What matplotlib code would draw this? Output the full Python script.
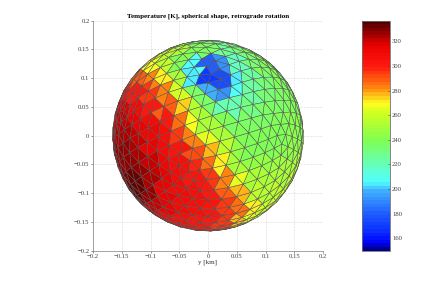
import numpy as np
import matplotlib
matplotlib.use('Agg')
import matplotlib.pyplot as plt
from matplotlib.collections import PolyCollection
from matplotlib.colors import LinearSegmentedColormap, Normalize
from matplotlib.cm import ScalarMappable

plt.rcParams['font.family'] = ['Liberation Serif', 'DejaVu Serif']

# temperatures [K], on a grid of (y, z) positions on the disc
grid_y = [-0.15, -0.125, -0.1, -0.075, -0.05, -0.025, 0, 0.025, 0.05, 0.075, 0.1, 0.125, 0.15]
grid_z = [0.15, 0.125, 0.1, 0.075, 0.05, 0.025, 0, -0.025, -0.05, -0.075, -0.1, -0.125, -0.15]
temps = [
    [262, 262, 262, 258, 250, 240, 235, 228, 232, 238, 242, 245, 245],
    [280, 275, 268, 258, 240, 208, 182, 192, 218, 232, 240, 245, 245],
    [292, 288, 282, 272, 250, 205, 170, 175, 205, 225, 232, 238, 242],
    [305, 300, 295, 283, 262, 235, 197, 193, 208, 225, 232, 235, 240],
    [318, 310, 300, 290, 275, 255, 235, 222, 222, 230, 235, 235, 240],
    [322, 315, 308, 300, 287, 268, 250, 240, 235, 235, 235, 238, 242],
    [325, 320, 312, 305, 295, 282, 265, 250, 240, 238, 238, 240, 242],
    [326, 324, 316, 308, 303, 292, 277, 258, 245, 240, 240, 242, 246],
    [328, 328, 320, 311, 306, 298, 287, 270, 252, 245, 245, 248, 252],
    [330, 332, 324, 315, 308, 303, 295, 282, 264, 250, 250, 252, 256],
    [330, 332, 326, 316, 309, 305, 300, 288, 278, 258, 255, 258, 260],
    [328, 328, 322, 314, 309, 305, 302, 295, 285, 270, 260, 262, 265],
    [325, 325, 318, 310, 305, 303, 300, 295, 278, 265, 262, 265, 265],
]

# colour bar anchors
cb_values = [150, 155, 165, 180, 198, 205, 215, 240, 262, 270, 282, 300, 318, 337]
cb_colors = ['#00008f', '#0000ff', '#0a30ff', '#2060ff', '#40b0ff', '#50ffff', '#60ffd0',
             '#80ff50', '#d0ff20', '#ffff20', '#ff8c10', '#ff1a10', '#e80000', '#500000']

radius = 0.166
pole = (0.005, 0.107)
spin = 0.45
freq = 8


def icosphere(n):
    t = (1 + 5 ** 0.5) / 2
    v = np.array([[-1, t, 0], [1, t, 0], [-1, -t, 0], [1, -t, 0], [0, -1, t], [0, 1, t],
                  [0, -1, -t], [0, 1, -t], [t, 0, -1], [t, 0, 1], [-t, 0, -1], [-t, 0, 1]], float)
    f = [(0, 11, 5), (0, 5, 1), (0, 1, 7), (0, 7, 10), (0, 10, 11), (1, 5, 9), (5, 11, 4), (11, 10, 2),
         (10, 7, 6), (7, 1, 8), (3, 9, 4), (3, 4, 2), (3, 2, 6), (3, 6, 8), (3, 8, 9), (4, 9, 5),
         (2, 4, 11), (6, 2, 10), (8, 6, 7), (9, 8, 1)]
    tris = []
    for a, b, c in f:
        a, b, c = v[a], v[b], v[c]
        p = lambda i, j: (a * (n - i - j) + b * i + c * j) / n
        for i in range(n):
            for j in range(n - i):
                tris.append([p(i, j), p(i + 1, j), p(i, j + 1)])
                if i + j < n - 1:
                    tris.append([p(i + 1, j), p(i + 1, j + 1), p(i, j + 1)])
    tris = np.array(tris)
    return tris / np.linalg.norm(tris, axis=2, keepdims=True), v[0] / np.linalg.norm(v[0])


def rotation_to(a, b):
    # rotation taking unit vector a onto unit vector b
    c = np.cross(a, b)
    k = np.array([[0, -c[2], c[1]], [c[2], 0, -c[0]], [-c[1], c[0], 0]])
    return np.eye(3) + k + k @ k / (1 + a @ b)


tris, top = icosphere(freq)
sy, sz = pole[0] / radius, pole[1] / radius
target = np.array([sy, sz, (1 - sy ** 2 - sz ** 2) ** 0.5])
k = np.array([[0, -top[2], top[1]], [top[2], 0, -top[0]], [-top[1], top[0], 0]])
spin_rot = np.eye(3) + np.sin(spin) * k + (1 - np.cos(spin)) * k @ k
tris = tris @ (rotation_to(top, target) @ spin_rot).T

centres = tris.mean(axis=1)
front = centres[:, 2] > -0.02
tris = tris[front]
centres = centres[front]
order = np.argsort(centres[:, 2])
tris = tris[order]
centres = centres[order]
polys = tris[:, :, :2] * radius

iy = np.abs(np.subtract.outer(centres[:, 0] * radius, grid_y)).argmin(axis=1)
iz = np.abs(np.subtract.outer(centres[:, 1] * radius, grid_z)).argmin(axis=1)
face_t = np.array(temps)[iz, iy]

cmap = LinearSegmentedColormap.from_list(
    'bar', [((v - cb_values[0]) / (cb_values[-1] - cb_values[0]), c) for v, c in zip(cb_values, cb_colors)], N=64)
norm = Normalize(cb_values[0], cb_values[-1])

fig = plt.figure(figsize=(4.36, 2.82), dpi=100)
ax = fig.add_axes([93 / 436, 1 - 250.7 / 282, 230 / 436, 230 / 282])
ax.set_xlim(-0.2, 0.2)
ax.set_ylim(-0.2, 0.2)
ticks = [-0.2, -0.15, -0.1, -0.05, 0, 0.05, 0.1, 0.15, 0.2]
labels = ['\u22120.2', '\u22120.15', '\u22120.1', '\u22120.05', '0', '0.05', '0.1', '0.15', '0.2']
ax.set_xticks(ticks, labels)
ax.set_yticks(ticks, labels)
ax.grid(True, linestyle=':', linewidth=0.4, color='#b8b8b8')
ax.set_axisbelow(True)
ax.tick_params(labelsize=4.8, length=1.5, width=0.4, pad=1, colors='#404040')
for s in ['top', 'right']:
    ax.spines[s].set_visible(False)
for s in ['left', 'bottom']:
    ax.spines[s].set_linewidth(0.5)
    ax.spines[s].set_color('#808080')
ax.set_xlabel('y [km]', fontsize=5, labelpad=0.5, color='#303030')
ax.set_title('Temperature [K], spherical shape, retrograde rotation', fontsize=5, fontweight='bold', pad=2.5)

ax.add_collection(PolyCollection(polys, array=face_t, cmap=cmap, norm=norm,
                                 edgecolors='#505050', linewidths=0.35, zorder=3))

cax = fig.add_axes([362 / 436, 1 - 250.5 / 282, 28 / 436, 230 / 282])
cb = fig.colorbar(ScalarMappable(norm=norm, cmap=cmap), cax=cax, ticks=list(range(160, 321, 20)))
cb.ax.tick_params(labelsize=4.8, length=1.5, width=0.4, direction='in', pad=1.5, colors='#404040')
cb.outline.set_linewidth(0.6)
cb.outline.set_edgecolor('#707070')

fig.savefig('out.png', dpi=100)
